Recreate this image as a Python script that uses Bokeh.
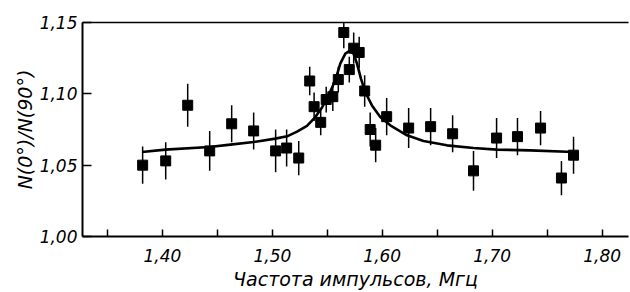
import math
from bokeh.plotting import figure
from bokeh.models import (ColumnDataSource, FixedTicker, CustomJSTickFormatter,
                          LinearAxis, Range1d)
from bokeh.embed import file_html
from bokeh.resources import INLINE

# measured points: pulse frequency (MHz), ratio N(0)/N(90), error
freq = [1.382, 1.403, 1.423, 1.443, 1.463, 1.483, 1.503, 1.513, 1.524, 1.534,
        1.538, 1.544, 1.549, 1.555, 1.560, 1.565, 1.570, 1.574, 1.579, 1.584,
        1.589, 1.594, 1.604, 1.624, 1.644, 1.664, 1.683, 1.704, 1.723, 1.744,
        1.763, 1.774]
ratio = [1.050, 1.053, 1.092, 1.060, 1.079, 1.074, 1.060, 1.062, 1.055, 1.109,
         1.091, 1.080, 1.096, 1.098, 1.110, 1.143, 1.117, 1.132, 1.129, 1.102,
         1.075, 1.064, 1.084, 1.076, 1.077, 1.072, 1.046, 1.069, 1.070, 1.076,
         1.041, 1.057]
err = [0.013, 0.013, 0.015, 0.014, 0.013, 0.013, 0.015, 0.013, 0.012, 0.010,
       0.010, 0.009, 0.009, 0.010, 0.009, 0.011, 0.009, 0.011, 0.011, 0.011,
       0.012, 0.012, 0.013, 0.014, 0.013, 0.013, 0.014, 0.014, 0.013, 0.012,
       0.012, 0.013]

# fitted curve
curve_x = [1.3815, 1.4027, 1.4427, 1.4618, 1.4830, 1.5027, 1.5134, 1.5225,
           1.5315, 1.5391, 1.5452, 1.5512, 1.5573, 1.5618, 1.5664, 1.5703,
           1.5739, 1.5770, 1.5806, 1.5845, 1.5906, 1.5982, 1.6073, 1.6164,
           1.6225, 1.6375, 1.6588, 1.6830, 1.7043, 1.7345, 1.7739]
curve_y = [1.0592, 1.0609, 1.0627, 1.0644, 1.0662, 1.0686, 1.0702, 1.0735,
           1.0775, 1.0837, 1.0905, 1.0990, 1.1095, 1.1212, 1.1282, 1.1301,
           1.1282, 1.1212, 1.1107, 1.1013, 1.0919, 1.0837, 1.0779, 1.0737,
           1.0709, 1.0669, 1.0639, 1.0620, 1.0609, 1.0604, 1.0592]

x_major = [1.40, 1.50, 1.60, 1.70, 1.80]
x_minor = [1.35, 1.45, 1.55, 1.65, 1.75]
y_ticks = [1.00, 1.05, 1.10, 1.15]

FONT = "DejaVu Sans"

p = figure(width=630, height=292, output_backend="svg", toolbar_location=None,
           x_range=Range1d(1.3273, 1.824), y_range=Range1d(1.00, 1.15),
           min_border_left=82, min_border_right=2, min_border_top=22,
           min_border_bottom=56)
p.outline_line_color = None
p.grid.visible = False
p.background_fill_color = "white"
p.border_fill_color = "white"

fmt = CustomJSTickFormatter(code="return tick.toFixed(2).replace('.', ',');")

xa = p.xaxis[0]
xa.ticker = FixedTicker(ticks=x_major, minor_ticks=x_minor)
xa.formatter = fmt
xa.major_tick_in = 7
xa.major_tick_out = 0
xa.minor_tick_in = 7
xa.minor_tick_out = 0
xa.minor_tick_line_color = "black"
xa.axis_line_width = 2
xa.major_tick_line_width = 1.5
xa.minor_tick_line_width = 1.5
xa.major_label_standoff = 12
xa.major_label_text_font = FONT
xa.major_label_text_font_style = "italic"
xa.major_label_text_font_size = "17px"
xa.major_label_text_line_height = 1.0
xa.major_label_text_color = "black"
xa.axis_label = "Частота импульсов, Мгц"
xa.axis_label_text_font = FONT
xa.axis_label_text_font_style = "italic"
xa.axis_label_text_font_size = "19px"
xa.axis_label_text_line_height = 1.0
xa.axis_label_text_color = "black"
xa.axis_label_standoff = 3

ya = p.yaxis[0]
ya.ticker = FixedTicker(ticks=y_ticks)
ya.formatter = fmt
ya.major_tick_in = 9
ya.major_tick_out = 0
ya.minor_tick_line_color = None
ya.axis_line_width = 2
ya.major_tick_line_width = 1.5
ya.major_label_standoff = 5
ya.major_label_text_font = FONT
ya.major_label_text_font_style = "italic"
ya.major_label_text_font_size = "17px"
ya.major_label_text_color = "black"
ya.axis_label = "N(0°)/N(90°)"
ya.axis_label_text_font = FONT
ya.axis_label_text_font_style = "italic"
ya.axis_label_text_font_size = "19px"
ya.axis_label_text_color = "black"
ya.axis_label_standoff = 1

top = LinearAxis(ticker=FixedTicker(ticks=[]), major_tick_in=0, major_tick_out=0,
                 minor_tick_in=0, minor_tick_out=0, major_label_text_font_size="0px",
                 axis_line_width=1.5, axis_line_color="black")
p.add_layout(top, "above")

src = ColumnDataSource(dict(x=freq, y=ratio,
                            lo=[r - e for r, e in zip(ratio, err)],
                            hi=[r + e for r, e in zip(ratio, err)]))
p.segment(x0="x", y0="lo", x1="x", y1="hi", source=src, line_color="black",
          line_width=1.5)
p.line(curve_x, curve_y, line_color="black", line_width=2.6)
p.scatter(x="x", y="y", source=src, marker="square", size=10,
          fill_color="black", line_color="black")

open("out.html", "w").write(file_html(p, INLINE))
